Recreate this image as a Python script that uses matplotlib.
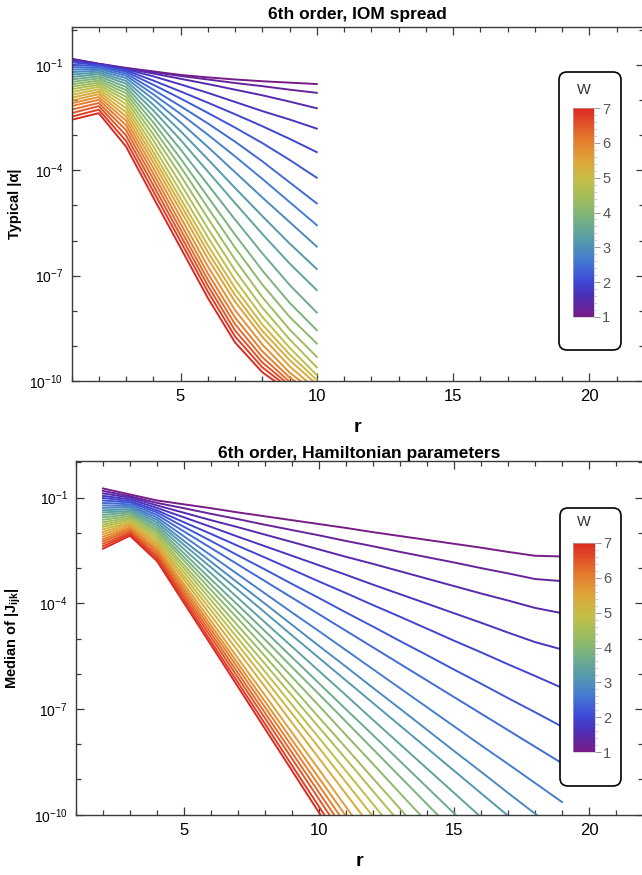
import numpy as np
import matplotlib
matplotlib.use("Agg")
import matplotlib.pyplot as plt
from matplotlib.colors import LinearSegmentedColormap, Normalize
from matplotlib.patches import FancyBboxPatch
from matplotlib.ticker import FixedLocator, NullFormatter, FuncFormatter
from matplotlib.transforms import IdentityTransform
import matplotlib.cm as cm

plt.rcParams['font.family'] = ['Liberation Sans', 'DejaVu Sans']
plt.rcParams['mathtext.fontset'] = 'custom'
plt.rcParams['mathtext.rm'] = 'Liberation Sans'
plt.rcParams['mathtext.it'] = 'Liberation Sans:italic'
plt.rcParams['mathtext.bf'] = 'Liberation Sans:bold'

# ---------------- data ----------------
W_values = [1.0, 1.24, 1.48, 1.72, 1.96, 2.2, 2.44, 2.68, 2.92, 3.16, 3.4, 3.64, 3.88,
            4.12, 4.36, 4.6, 4.84, 5.08, 5.32, 5.56, 5.8, 6.04, 6.28, 6.52, 6.76, 7.0]

r_iom = [1, 2, 3, 4, 5, 6, 7, 8, 9, 10]
# log10 of typical |alpha| for each W (one row per W)
log10_typical_alpha = [
    [-0.82, -0.96, -1.08, -1.18, -1.28, -1.35, -1.41, -1.46, -1.50, -1.54],
    [-0.83, -0.97, -1.09, -1.20, -1.31, -1.41, -1.51, -1.60, -1.70, -1.79],
    [-0.835, -0.97, -1.10, -1.24, -1.39, -1.54, -1.70, -1.86, -2.04, -2.23],
    [-0.87, -0.98, -1.12, -1.32, -1.55, -1.79, -2.05, -2.31, -2.55, -2.81],
    [-0.92, -1.00, -1.15, -1.44, -1.75, -2.07, -2.40, -2.74, -3.10, -3.48],
    [-0.99, -1.03, -1.19, -1.56, -1.95, -2.36, -2.78, -3.22, -3.70, -4.21],
    [-1.06, -1.07, -1.24, -1.70, -2.17, -2.66, -3.18, -3.74, -4.34, -4.94],
    [-1.13, -1.11, -1.30, -1.83, -2.39, -2.98, -3.60, -4.24, -4.90, -5.56],
    [-1.20, -1.16, -1.37, -1.97, -2.63, -3.33, -4.05, -4.77, -5.47, -6.17],
    [-1.27, -1.21, -1.45, -2.13, -2.88, -3.68, -4.50, -5.30, -6.08, -6.81],
    [-1.34, -1.26, -1.53, -2.29, -3.13, -4.03, -4.93, -5.81, -6.65, -7.41],
    [-1.41, -1.32, -1.62, -2.46, -3.40, -4.40, -5.40, -6.36, -7.26, -8.05],
    [-1.48, -1.38, -1.71, -2.63, -3.66, -4.75, -5.83, -6.85, -7.77, -8.55],
    [-1.55, -1.44, -1.80, -2.80, -3.90, -5.06, -6.20, -7.25, -8.17, -8.93],
    [-1.62, -1.50, -1.90, -2.97, -4.14, -5.36, -6.54, -7.61, -8.53, -9.31],
    [-1.69, -1.56, -2.00, -3.14, -4.38, -5.65, -6.85, -7.91, -8.81, -9.61],
    [-1.77, -1.62, -2.11, -3.31, -4.60, -5.90, -7.12, -8.17, -9.05, -9.83],
    [-1.85, -1.69, -2.22, -3.47, -4.80, -6.13, -7.35, -8.39, -9.24, -9.97],
    [-1.93, -1.76, -2.34, -3.62, -4.97, -6.32, -7.55, -8.57, -9.40, -10.10],
    [-2.01, -1.83, -2.46, -3.77, -5.14, -6.51, -7.74, -8.74, -9.58, -10.25],
    [-2.09, -1.91, -2.58, -3.93, -5.33, -6.73, -7.98, -8.96, -9.76, -10.35],
    [-2.17, -1.99, -2.71, -4.09, -5.51, -6.93, -8.19, -9.15, -9.90, -10.42],
    [-2.27, -2.08, -2.85, -4.25, -5.68, -7.11, -8.38, -9.32, -10.02, -10.50],
    [-2.37, -2.17, -3.00, -4.42, -5.85, -7.28, -8.56, -9.47, -10.12, -10.56],
    [-2.47, -2.27, -3.16, -4.59, -6.02, -7.45, -8.73, -9.61, -10.21, -10.63],
    [-2.56, -2.37, -3.32, -4.77, -6.20, -7.63, -8.90, -9.75, -10.30, -10.70],
]

r_ham = [2, 3, 4, 5, 6, 7, 8, 9, 10, 11, 12, 13, 14, 15, 16, 17, 18, 19]
# log10 of median |J_ijk| for each W (rows start at r = 2)
log10_median_J = [
    [-0.74, -0.91, -1.08, -1.19, -1.30, -1.42, -1.53, -1.64, -1.75, -1.86, -1.98, -2.09, -2.20, -2.31, -2.42, -2.54, -2.65, -2.67],
    [-0.81, -0.96, -1.15, -1.30, -1.46, -1.61, -1.77, -1.92, -2.07, -2.23, -2.38, -2.54, -2.69, -2.84, -3.00, -3.15, -3.31, -3.37],
    [-0.88, -1.00, -1.22, -1.43, -1.64, -1.84, -2.05, -2.26, -2.47, -2.68, -2.88, -3.09, -3.30, -3.51, -3.72, -3.92, -4.13, -4.28],
    [-0.95, -1.05, -1.29, -1.56, -1.83, -2.11, -2.38, -2.65, -2.92, -3.19, -3.47, -3.74, -4.01, -4.28, -4.55, -4.83, -5.10, -5.31],
    [-1.01, -1.10, -1.36, -1.70, -2.03, -2.37, -2.70, -3.04, -3.38, -3.71, -4.05, -4.38, -4.72, -5.06, -5.39, -5.73, -6.06, -6.40],
    [-1.08, -1.14, -1.42, -1.83, -2.23, -2.64, -3.04, -3.45, -3.85, -4.26, -4.66, -5.07, -5.47, -5.88, -6.28, -6.69, -7.09, -7.50],
    [-1.15, -1.19, -1.49, -1.96, -2.43, -2.90, -3.37, -3.84, -4.31, -4.78, -5.25, -5.72, -6.19, -6.66, -7.13, -7.60, -8.07, -8.54],
    [-1.22, -1.24, -1.56, -2.10, -2.64, -3.18, -3.72, -4.26, -4.79, -5.33, -5.87, -6.41, -6.95, -7.49, -8.03, -8.56, -9.10, -9.64],
    [-1.29, -1.28, -1.63, -2.23, -2.82, -3.42, -4.01, -4.61, -5.21, -5.80, -6.40, -6.99, -7.59, -8.19, -8.78, -9.38, -9.97, -10.57],
    [-1.36, -1.33, -1.70, -2.34, -2.98, -3.62, -4.26, -4.91, -5.55, -6.19, -6.83, -7.47, -8.11, -8.75, -9.39, -10.03],
    [-1.42, -1.38, -1.77, -2.46, -3.15, -3.85, -4.54, -5.23, -5.92, -6.61, -7.31, -8.00, -8.69, -9.38, -10.07],
    [-1.49, -1.42, -1.84, -2.58, -3.32, -4.05, -4.79, -5.53, -6.27, -7.01, -7.74, -8.48, -9.22, -9.96, -10.70],
    [-1.56, -1.47, -1.91, -2.69, -3.47, -4.25, -5.03, -5.81, -6.58, -7.36, -8.14, -8.92, -9.70, -10.48],
    [-1.63, -1.52, -1.97, -2.79, -3.62, -4.44, -5.27, -6.09, -6.91, -7.74, -8.56, -9.39, -10.21],
    [-1.70, -1.57, -2.04, -2.91, -3.77, -4.64, -5.50, -6.37, -7.24, -8.10, -8.97, -9.83, -10.70],
    [-1.77, -1.61, -2.11, -3.01, -3.91, -4.82, -5.72, -6.62, -7.52, -8.42, -9.33, -10.23],
    [-1.83, -1.66, -2.18, -3.12, -4.06, -5.00, -5.94, -6.88, -7.82, -8.76, -9.70, -10.64],
    [-1.90, -1.71, -2.25, -3.23, -4.20, -5.18, -6.15, -7.13, -8.10, -9.08, -10.05],
    [-1.97, -1.75, -2.32, -3.33, -4.35, -5.36, -6.37, -7.39, -8.40, -9.41, -10.42],
    [-2.04, -1.80, -2.39, -3.45, -4.50, -5.56, -6.61, -7.67, -8.72, -9.78, -10.83],
    [-2.11, -1.85, -2.46, -3.54, -4.63, -5.71, -6.79, -7.88, -8.96, -10.04],
    [-2.18, -1.89, -2.52, -3.63, -4.74, -5.84, -6.95, -8.06, -9.17, -10.28],
    [-2.24, -1.94, -2.59, -3.72, -4.85, -5.98, -7.11, -8.24, -9.37, -10.50],
    [-2.31, -1.99, -2.66, -3.81, -4.96, -6.11, -7.26, -8.41, -9.56, -10.71],
    [-2.38, -2.03, -2.73, -3.90, -5.08, -6.25, -7.42, -8.60, -9.77, -10.94],
    [-2.45, -2.08, -2.80, -3.99, -5.18, -6.37, -7.56, -8.75, -9.94, -11.13],
]

x_major_ticks = [5, 10, 15, 20]
y_major_exponents = [-1, -4, -7, -10]
colorbar_ticks = [1, 2, 3, 4, 5, 6, 7]

titles = ["6th order, IOM spread", "6th order, Hamiltonian parameters"]
ylabels = ["Typical |α|", r"Median of |$\mathbf{J_{ijk}}$|"]

# ---------------- style ----------------
FW, FH = 642, 875
fig = plt.figure(figsize=(FW / 100, FH / 100), dpi=100)

rainbow = LinearSegmentedColormap.from_list("mma_rainbow", [
    (0.00, (0.47, 0.11, 0.53)),
    (0.10, (0.30, 0.18, 0.72)),
    (0.18, (0.24, 0.30, 0.85)),
    (0.27, (0.27, 0.48, 0.82)),
    (0.36, (0.33, 0.60, 0.68)),
    (0.46, (0.45, 0.69, 0.52)),
    (0.55, (0.60, 0.74, 0.38)),
    (0.65, (0.76, 0.75, 0.28)),
    (0.75, (0.87, 0.65, 0.22)),
    (0.85, (0.90, 0.48, 0.18)),
    (1.00, (0.86, 0.16, 0.13)),
])
norm = Normalize(vmin=1, vmax=7)
frame_col = '#3a3a3a'


def px_rect(x0, y0, x1, y1):
    return [x0 / FW, 1 - y1 / FH, (x1 - x0) / FW, (y1 - y0) / FH]


def style_axes(ax, ylabel, ylab_x, title, title_pad):
    ax.set_yscale('log')
    ax.set_xlim(1, 22)
    ax.xaxis.set_major_locator(FixedLocator(x_major_ticks))
    ax.xaxis.set_minor_locator(FixedLocator(list(range(1, 23))))
    ax.yaxis.set_major_locator(FixedLocator([10.0 ** e for e in y_major_exponents]))
    ax.yaxis.set_minor_locator(FixedLocator([10.0 ** e for e in range(-10, 1)]))
    ax.yaxis.set_minor_formatter(NullFormatter())
    ax.yaxis.set_major_formatter(FuncFormatter(
        lambda v, p: r'$10^{%d}$' % int(round(np.log10(v)))))
    ax.tick_params(which='both', direction='in', top=True, right=True,
                   color=frame_col, width=0.9)
    ax.tick_params(which='major', length=6)
    ax.tick_params(which='minor', length=3.5)
    ax.tick_params(axis='x', which='major', labelsize=12, pad=6)
    ax.tick_params(axis='y', which='major', labelsize=10, pad=6)
    for s in ax.spines.values():
        s.set_color(frame_col)
        s.set_linewidth(1.0)
    ax.set_xlabel('r', fontsize=14, fontweight='bold', va='baseline')
    ax.xaxis.set_label_coords(0.5, -0.145)
    ax.set_ylabel(ylabel, fontsize=10.5, fontweight='bold')
    ax.yaxis.set_label_coords(ylab_x, 0.5)
    ax.set_title(title, fontsize=12.5, fontweight='bold', pad=title_pad)


def add_legend(box, bar, w_y):
    x0, y0, x1, y1 = box
    patch = FancyBboxPatch((x0, FH - y1), x1 - x0, y1 - y0,
                           boxstyle="round,pad=0,rounding_size=8",
                           transform=IdentityTransform(), fc='white',
                           ec='black', lw=1.2, zorder=3)
    fig.add_artist(patch)
    cax = fig.add_axes(px_rect(*bar))
    cax.set_zorder(4)
    cb = fig.colorbar(cm.ScalarMappable(norm=norm, cmap=rainbow), cax=cax)
    cb.outline.set_linewidth(0.4)
    cb.outline.set_edgecolor('#bbbbbb')
    cb.set_ticks(colorbar_ticks)
    cax.yaxis.set_minor_locator(FixedLocator(list(np.arange(1, 7.01, 0.2))))
    cax.tick_params(which='major', length=4, width=0.7, color='#999999',
                    labelsize=10.5, labelcolor='#555555', pad=2)
    cax.tick_params(which='minor', length=2.3, width=0.5, color='#bbbbbb')
    fig.text((bar[0] + bar[2]) / 2 / FW, 1 - w_y / FH, 'W', ha='center',
             va='center', fontsize=10.5, color='#333333', zorder=5)


# ---------------- top panel ----------------
ax1 = fig.add_axes(px_rect(71.5, 27, 643.8, 381))
ax1.set_zorder(1)
for W, vals in zip(W_values, log10_typical_alpha):
    ax1.plot(r_iom[:len(vals)], 10.0 ** np.array(vals), color=rainbow(norm(W)),
             lw=1.4, solid_joinstyle='round', clip_on=True)
ax1.set_ylim(1e-10, 10 ** 0.085)
style_axes(ax1, ylabels[0], -0.086, titles[0], 5.5)
add_legend((559, 72, 621, 350), (573, 108, 594, 317), 90)

# ---------------- bottom panel ----------------
ax2 = fig.add_axes(px_rect(76, 461, 643, 814.7))
ax2.set_zorder(1)
for W, vals in zip(W_values, log10_median_J):
    ax2.plot(r_ham[:len(vals)], 10.0 ** np.array(vals), color=rainbow(norm(W)),
             lw=1.4, solid_joinstyle='round', clip_on=True)
ax2.set_ylim(1e-10, 10 ** 0.04)
style_axes(ax2, ylabels[1], -0.093, titles[1], 2.5)
add_legend((560, 508, 621, 786), (573, 543, 595, 752), 522)

fig.savefig("out.png", dpi=100)
